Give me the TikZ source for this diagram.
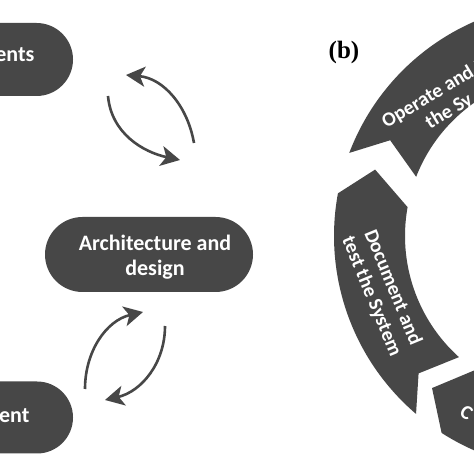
\documentclass[tikz,border=0pt]{standalone}
\usepackage{fontspec}
\setmainfont{Carlito}
\newfontfamily\serifb{Liberation Serif}
\usetikzlibrary{arrows.meta,calc}
\definecolor{dk}{HTML}{474747}
\begin{document}
\begin{tikzpicture}[x=1pt,y=1pt,
  pill/.style={fill=dk, inner sep=0pt},
  pilltext/.style={text=white, font=\fontsize{22}{25}\selectfont\bfseries},
  ringtext/.style={text=white, font=\fontsize{20}{23}\selectfont\bfseries},
  seg/.style={fill=dk},
  cyc/.style={draw=dk, line width=2.6pt, -{Stealth[length=19pt,width=20pt,inset=5pt]}}]
\useasboundingbox (0,0) rectangle (474,474);
\clip (0,0) rectangle (474,474);
\fill[white] (0,0) rectangle (474,474);
% left pills
\node[pill, rounded corners=36.5pt, minimum width=230pt, minimum height=73pt] (req) at (-42,414.5) {};
\node[pilltext, anchor=base east] (reqt) at (38,412) {ents};
\node[pill, rounded corners=37.5pt, minimum width=208pt, minimum height=75pt] (arch) at (149,219.5) {};
\node[pilltext, align=center] (archt) at (155,216.5) {Architecture and\\design};
\node[pill, rounded corners=36pt, minimum width=230pt, minimum height=72pt] (dev) at (-42,56.5) {};
\node[pilltext, anchor=base east] (devt) at (33,51) {ment};
% cycle arrows
\coordinate (a1s) at (194,331); \coordinate (a1e) at (126,399);
\coordinate (a2s) at (108,378); \coordinate (a2e) at (180,314);
\coordinate (a3s) at (85,85);   \coordinate (a3e) at (143,162);
\coordinate (a4s) at (165,148); \coordinate (a4e) at (105,74);
\draw[cyc] (a1s) to[out=100,in=-5] (a1e);
\draw[cyc] (a2s) to[out=-85,in=168] (a2e);
\draw[cyc] (a3s) to[out=90,in=193] (a3e);
\draw[cyc] (a4s) to[out=-90,in=13] (a4e);
% ring
\coordinate (C) at (568,238);
\fill[seg] ($(C)+(229.5:234pt)$) arc[start angle=229.5,end angle=169.5,radius=234pt]
  -- ($(C)+(161:204pt)$) -- ($(C)+(169.8:163pt)$)
  arc[start angle=169.8,end angle=228,radius=163pt]
  -- ($(C)+(222.6:203pt)$) -- cycle;
\node[ringtext, align=center, rotate=-67.5] (doct) at (382,182) {Document and\\test the System};
\fill[seg] ($(C)+(159.2:234pt)$) arc[start angle=159.2,end angle=100,radius=234pt]
  -- ($(C)+(91:200pt)$) -- ($(C)+(100:163pt)$)
  arc[start angle=100,end angle=158.7,radius=163pt]
  -- ($(C)+(151.7:202pt)$) -- cycle;
\node[ringtext, inner sep=0pt, align=left, rotate=31, anchor=west] (opt) at (389.6,340) {Operate and M\\\hspace*{37pt}the Sy};
\fill[seg] ($(C)+(228.2:204pt)$) -- ($(C)+(237.3:234pt)$)
  arc[start angle=237.3,end angle=300,radius=234pt]
  -- ($(C)+(300:163pt)$) arc[start angle=300,end angle=235.3,radius=163pt] -- cycle;
\node[ringtext, rotate=-31] (cst) at (466.5,61.5) {C};
\node[font=\serifb\bfseries\fontsize{25}{30}\selectfont] (lab) at (344,422) {(b)};
\end{tikzpicture}
\end{document}
